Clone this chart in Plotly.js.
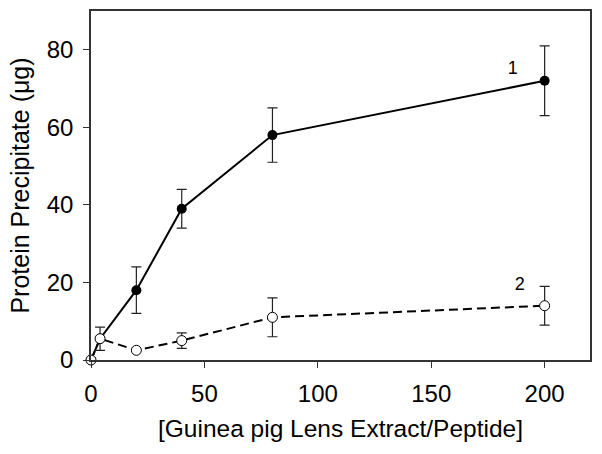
<!DOCTYPE html>
<html>
<head>
<meta charset="utf-8">
<script src="https://cdn.plot.ly/plotly-3.0.1.min.js"></script>
<style>
  body { margin: 0; background: #fff; }
  #myDiv { width: 602px; height: 454px; }
</style>
</head>
<body>
<div id="myDiv"></div>
<script>
var graphDiv = document.getElementById('myDiv');

// [Guinea pig lens extract / peptide]
var ratio = [0, 4, 20, 40, 80, 200];

// curve 1 (filled circles)
var precip1 = [0, 5.5, 18, 39, 58, 72];
var errHi1 = [0, 0, 6, 5, 7, 9];
var errLo1 = [0, 0, 6, 5, 7, 9];

// curve 2 (open circles)
var precip2 = [0, 5.5, 2.5, 5, 11, 14];
var errHi2 = [0, 3, 0, 2, 5, 5];
var errLo2 = [0, 3, 0, 2, 5, 5];

var curveLabels = ['1', '2'];
var labelX = [186, 189];
var labelY = [75, 19.2];

var font = 'Liberation Sans, Arial, sans-serif';

Plotly.newPlot(graphDiv, [{
    type: 'scatter',
    mode: 'lines+markers',
    x: ratio,
    y: precip1,
    cliponaxis: false,
    line: { color: '#000', width: 2 },
    marker: { color: '#000', size: 10 },
    error_y: { type: 'data', symmetric: false, array: errHi1, arrayminus: errLo1,
               color: '#222', thickness: 1.2, width: 5 },
    hoverinfo: 'none'
}, {
    type: 'scatter',
    mode: 'lines+markers',
    x: ratio,
    y: precip2,
    cliponaxis: false,
    line: { color: '#000', width: 2, dash: '9px,5px' },
    marker: { color: '#fff', size: 10, line: { color: '#000', width: 1 } },
    error_y: { type: 'data', symmetric: false, array: errHi2, arrayminus: errLo2,
               color: '#222', thickness: 1.2, width: 5 },
    hoverinfo: 'none'
}, {
    type: 'scatter',
    mode: 'text',
    x: labelX,
    y: labelY,
    text: curveLabels,
    textfont: { family: font, size: 18, color: '#000' },
    hoverinfo: 'none'
}], {
    width: 602,
    height: 454,
    showlegend: false,
    paper_bgcolor: '#fff',
    plot_bgcolor: '#fff',
    margin: { l: 91, r: 12, t: 11, b: 94 },
    font: { family: font, color: '#000' },
    xaxis: {
        range: [0, 220],
        tickvals: [0, 50, 100, 150, 200],
        ticks: 'outside',
        ticklen: 6,
        tickwidth: 1.2,
        tickcolor: '#333',
        ticklabelstandoff: 5,
        showline: true,
        linecolor: '#333',
        linewidth: 1.5,
        mirror: true,
        showgrid: false,
        zeroline: false,
        tickfont: { size: 24 },
        title: { text: '[Guinea pig Lens Extract/Peptide]', font: { size: 24.5 }, standoff: 14 }
    },
    yaxis: {
        range: [0, 90],
        tickvals: [0, 20, 40, 60, 80],
        ticks: 'outside',
        ticklen: 6,
        tickwidth: 1.2,
        tickcolor: '#333',
        ticklabelstandoff: 5,
        showline: true,
        linecolor: '#333',
        linewidth: 1.5,
        mirror: true,
        showgrid: false,
        zeroline: false,
        tickfont: { size: 24 },
        title: { text: 'Protein Precipitate (\u03bcg)', font: { size: 25 }, standoff: 10 }
    }
}, { displayModeBar: false });
</script>
</body>
</html>
